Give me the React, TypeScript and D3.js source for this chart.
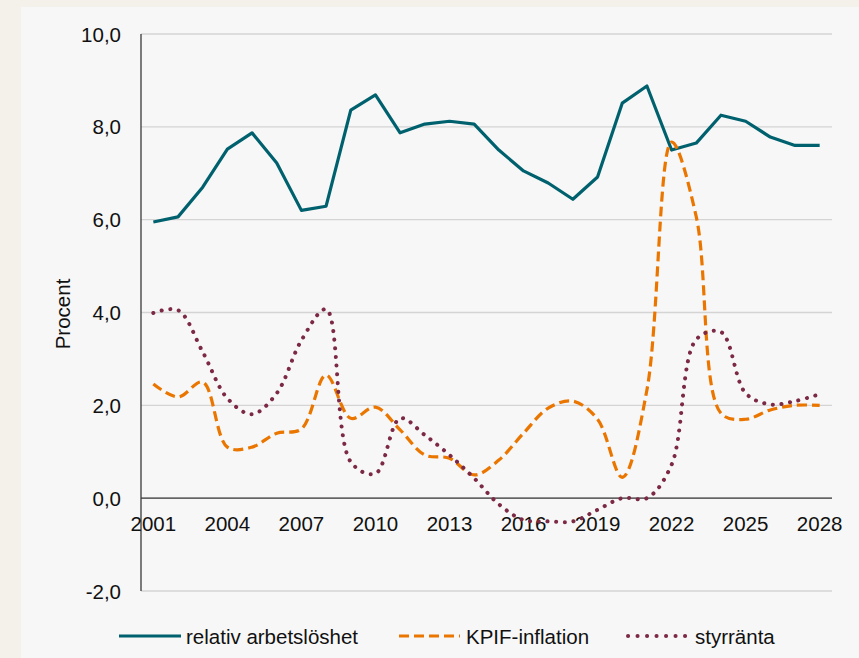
import React from "react";
import * as d3 from "d3";

const years = [
  2001, 2002, 2003, 2004, 2005, 2006, 2007, 2008, 2009, 2010, 2011, 2012, 2013, 2014,
  2015, 2016, 2017, 2018, 2019, 2020, 2021, 2022, 2023, 2024, 2025, 2026, 2027, 2028,
];
const arbetsloshet = [
  5.95, 6.06, 6.7, 7.52, 7.87, 7.22, 6.2, 6.29, 8.36, 8.69, 7.87, 8.06, 8.12, 8.06,
  7.5, 7.05, 6.79, 6.44, 6.92, 8.51, 8.88, 7.5, 7.65, 8.25, 8.12, 7.78, 7.6, 7.6,
];
const kpif = [
  2.46, 2.18, 2.5, 1.1, 1.1, 1.4, 1.49, 2.65, 1.72, 1.96, 1.47, 0.93, 0.86, 0.5,
  0.82, 1.4, 1.94, 2.09, 1.7, 0.45, 2.33, 7.67, 6.06, 1.83, 1.7, 1.9, 2.0, 2.0,
];
const styrranta = [
  3.99, 4.05, 3.15, 2.15, 1.81, 2.26, 3.4, 4.07, 0.78, 0.53, 1.72, 1.36, 0.93, 0.43,
  -0.13, -0.47, -0.5, -0.5, -0.25, 0.0, 0.0, 0.72, 3.42, 3.58, 2.26, 2.02, 2.09, 2.24,
];
const yTicks = [-2, 0, 2, 4, 6, 8, 10];
const xTickYears = [2001, 2004, 2007, 2010, 2013, 2016, 2019, 2022, 2025, 2028];
const seriesNames = ["relativ arbetslöshet", "KPIF-inflation", "styrränta"];

const W = 859;
const H = 658;
const FONT = "'Liberation Sans', Arial, sans-serif";
const FS = 20.5;

export default function App() {
  const left = 141;
  const right = 832;
  const x = d3.scaleBand<number>().domain(years).range([left, right]);
  const y = d3.scaleLinear().domain([-2, 10]).range([591, 34]);
  const cx = (yr: number) => (x(yr) as number) + x.bandwidth() / 2;

  const straight = d3
    .line<number>()
    .x((_, i) => cx(years[i]))
    .y((v) => y(v));
  const smooth = d3
    .line<number>()
    .x((_, i) => cx(years[i]))
    .y((v) => y(v))
    .curve(d3.curveCatmullRom.alpha(0.5));

  const teal = "#00616e";
  const orange = "#ea7600";
  const purple = "#7c2946";

  const fmt = (v: number) => v.toFixed(1).replace(".", ",");
  const legendY = 636;

  return (
    <svg
      width={W}
      height={H}
      style={{ position: "absolute", left: 0, top: 0, display: "block" }}
      fontFamily={FONT}
    >
      <rect x={0} y={0} width={W} height={H} fill="#f4f0ea" />
      <rect x={21} y={7} width={W - 21} height={H - 7} fill="#f7f7f7" />

      {yTicks.map((t) => (
        <line
          key={"g" + t}
          x1={left}
          x2={right}
          y1={y(t)}
          y2={y(t)}
          stroke="#d4d4d4"
          strokeWidth={1.3}
        />
      ))}
      <line x1={left} x2={left} y1={y(10)} y2={y(-2)} stroke="#3a3a3a" strokeWidth={1.3} />
      <line x1={left} x2={right} y1={y(0)} y2={y(0)} stroke="#3a3a3a" strokeWidth={1.3} />

      {yTicks.map((t) => (
        <text
          key={"yl" + t}
          x={121}
          y={y(t)}
          textAnchor="end"
          dominantBaseline="central"
          fontSize={FS}
          fill="#111"
        >
          {fmt(t)}
        </text>
      ))}
      {xTickYears.map((yr) => (
        <text
          key={"xl" + yr}
          x={cx(yr)}
          y={523}
          textAnchor="middle"
          dominantBaseline="central"
          fontSize={FS}
          fill="#111"
        >
          {yr}
        </text>
      ))}
      <text
        transform={`translate(62,314) rotate(-90)`}
        textAnchor="middle"
        dominantBaseline="central"
        fontSize={FS}
        fill="#111"
      >
        Procent
      </text>

      <path d={straight(arbetsloshet) || ""} fill="none" stroke={teal} strokeWidth={3.2} strokeLinejoin="round" />
      <path
        d={smooth(kpif) || ""}
        fill="none"
        stroke={orange}
        strokeWidth={3.2}
        strokeDasharray="10 5"
      />
      <path
        d={smooth(styrranta) || ""}
        fill="none"
        stroke={purple}
        strokeWidth={4}
        strokeLinecap="round"
        strokeDasharray="0.1 8.6"
      />

      <line x1={119} x2={181} y1={legendY} y2={legendY} stroke={teal} strokeWidth={3.2} />
      <text x={186} y={legendY} dominantBaseline="central" fontSize={FS} fill="#111">
        {seriesNames[0]}
      </text>
      <line
        x1={399}
        x2={460}
        y1={legendY}
        y2={legendY}
        stroke={orange}
        strokeWidth={3.2}
        strokeDasharray="10 5"
      />
      <text x={466} y={legendY} dominantBaseline="central" fontSize={FS} fill="#111">
        {seriesNames[1]}
      </text>
      <line
        x1={628}
        x2={686}
        y1={legendY}
        y2={legendY}
        stroke={purple}
        strokeWidth={4}
        strokeLinecap="round"
        strokeDasharray="0.1 9.4"
      />
      <text x={695} y={legendY} dominantBaseline="central" fontSize={FS} fill="#111">
        {seriesNames[2]}
      </text>
    </svg>
  );
}
